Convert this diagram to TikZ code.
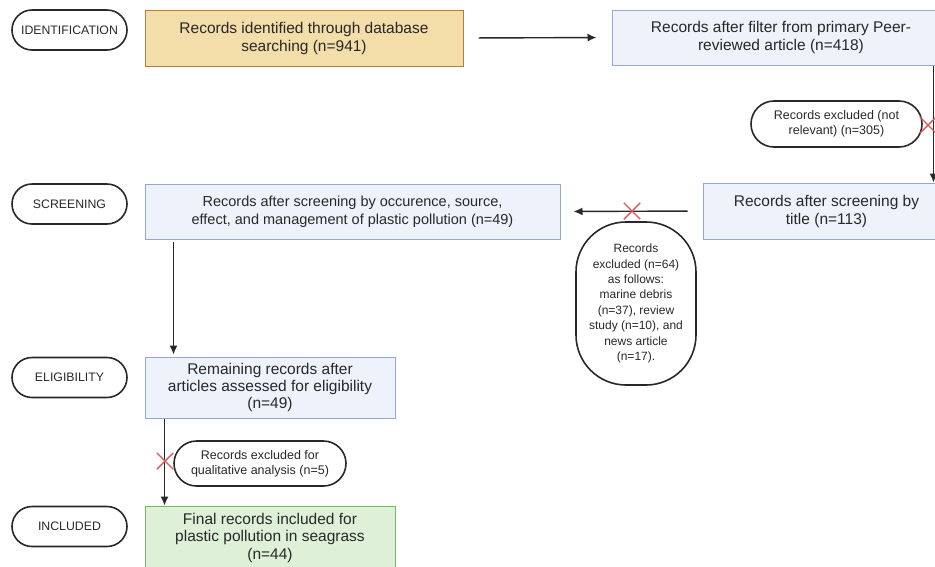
\documentclass[tikz,border=0pt]{standalone}
\usepackage{fontspec}
\setmainfont{Liberation Sans}
\usetikzlibrary{calc, positioning, arrows.meta, shapes}

\definecolor{boxblue}{RGB}{238,242,250}
\definecolor{lineblue}{RGB}{150,168,205}
\definecolor{boxtan}{RGB}{243,221,168}
\definecolor{linetan}{RGB}{185,125,60}
\definecolor{boxgreen}{RGB}{222,241,216}
\definecolor{linegreen}{RGB}{115,185,105}
\definecolor{xred}{RGB}{215,90,90}
\definecolor{ink}{RGB}{40,40,40}

\begin{document}
\begin{tikzpicture}[x=1pt, y=-1pt, stage/.style={draw=ink, line width=1.6pt, rounded rectangle, minimum width=115pt, minimum height=40pt, inner sep=0pt, text=ink, font=\fontsize{12.3}{14}\selectfont},rec/.style={draw=lineblue, fill=boxblue, line width=1pt, align=center, inner sep=0pt, text=ink, font=\fontsize{15.5}{18}\selectfont},excl/.style={draw=ink, line width=1.6pt, rounded rectangle, align=center, inner sep=0pt, text=ink, font=\fontsize{12.5}{15.5}\selectfont},xmark/.style={draw=xred, cross out, line width=1.4pt, minimum size=15pt, inner sep=0pt},arr/.style={-{Latex[length=9pt, width=8pt]}, draw=ink, line width=1.4pt}]
  \useasboundingbox (0,0) rectangle (935,566);
  \clip (0,0) rectangle (935,566);

  \node[stage] (s1) at (69.5,30) {IDENTIFICATION};
  \node[stage] (s2) at (69.5,204) {SCREENING};
  \node[stage] (s3) at (69.5,377.5) {ELIGIBILITY};
  \node[stage] (s4) at (69.5,526.5) {INCLUDED};

  \node[rec, fill=boxtan, draw=linetan, minimum width=318pt, minimum height=56pt] (db) at (304,38) {Records identified through database\\searching (n=941)};
  \node[rec, minimum width=338pt, minimum height=55pt] (flt) at (781,37.5) {Records after filter from primary Peer-\\reviewed article (n=418)};
  \node[rec, minimum width=247pt, minimum height=56pt] (ttl) at (826.5,211) {Records after screening by\\title (n=113)};
  \node[rec, minimum width=415pt, minimum height=55pt, font=\fontsize{14.5}{17.5}\selectfont] (scr) at (352.5,211.5) {Records after screening by occurence, source,\\effect, and management of plastic pollution (n=49)};
  \node[rec, minimum width=250pt, minimum height=61pt, font=\fontsize{15.5}{17}\selectfont] (elg) at (270,387.5) {Remaining records after\\articles assessed for eligibility\\(n=49)};
  \node[rec, fill=boxgreen, draw=linegreen, minimum width=250pt, minimum height=63pt, font=\fontsize{15.5}{17.5}\selectfont] (fin) at (270,537.5) {Final records included for\\plastic pollution in seagrass\\(n=44)};

  \node[excl, minimum width=171pt, minimum height=46pt] (ex1) at (836.5,124) {Records excluded (not\\relevant) (n=305)};
  \node[draw=ink, line width=1.6pt, rounded corners=50pt, minimum width=120pt, minimum height=163pt, align=center, inner sep=0pt, text=ink, font=\fontsize{12}{15.4}\selectfont] (ex2) at (636,303.5) {Records\\excluded (n=64)\\as follows:\\marine debris\\(n=37), review\\study (n=10), and\\news article\\(n=17).};
  \node[excl, minimum width=172pt, minimum height=45pt, font=\fontsize{12.5}{15}\selectfont] (ex3) at (260,463.5) {Records excluded for\\qualitative analysis (n=5)};

  \draw[arr, shorten <=15pt, shorten >=15pt] (db.east) -- (flt.west);
  \draw[arr] ([xshift=-17pt]flt.south east) -- ([xshift=-17pt]ttl.north east);
  \draw[arr, shorten <=15pt, shorten >=13pt] (ttl.west) -- (scr.east);
  \draw[arr, shorten <=2pt, shorten >=2pt] ([xshift=29pt]scr.south west) -- ([xshift=29pt]elg.north west);
  \draw[arr] ([xshift=20pt]elg.south west) -- ([xshift=20pt]fin.north west);

  \node[xmark] (x1) at (928,125) {};
  \node[xmark] (x2) at (632,211) {};
  \node[xmark] (x3) at (165,461) {};
\end{tikzpicture}
\end{document}
